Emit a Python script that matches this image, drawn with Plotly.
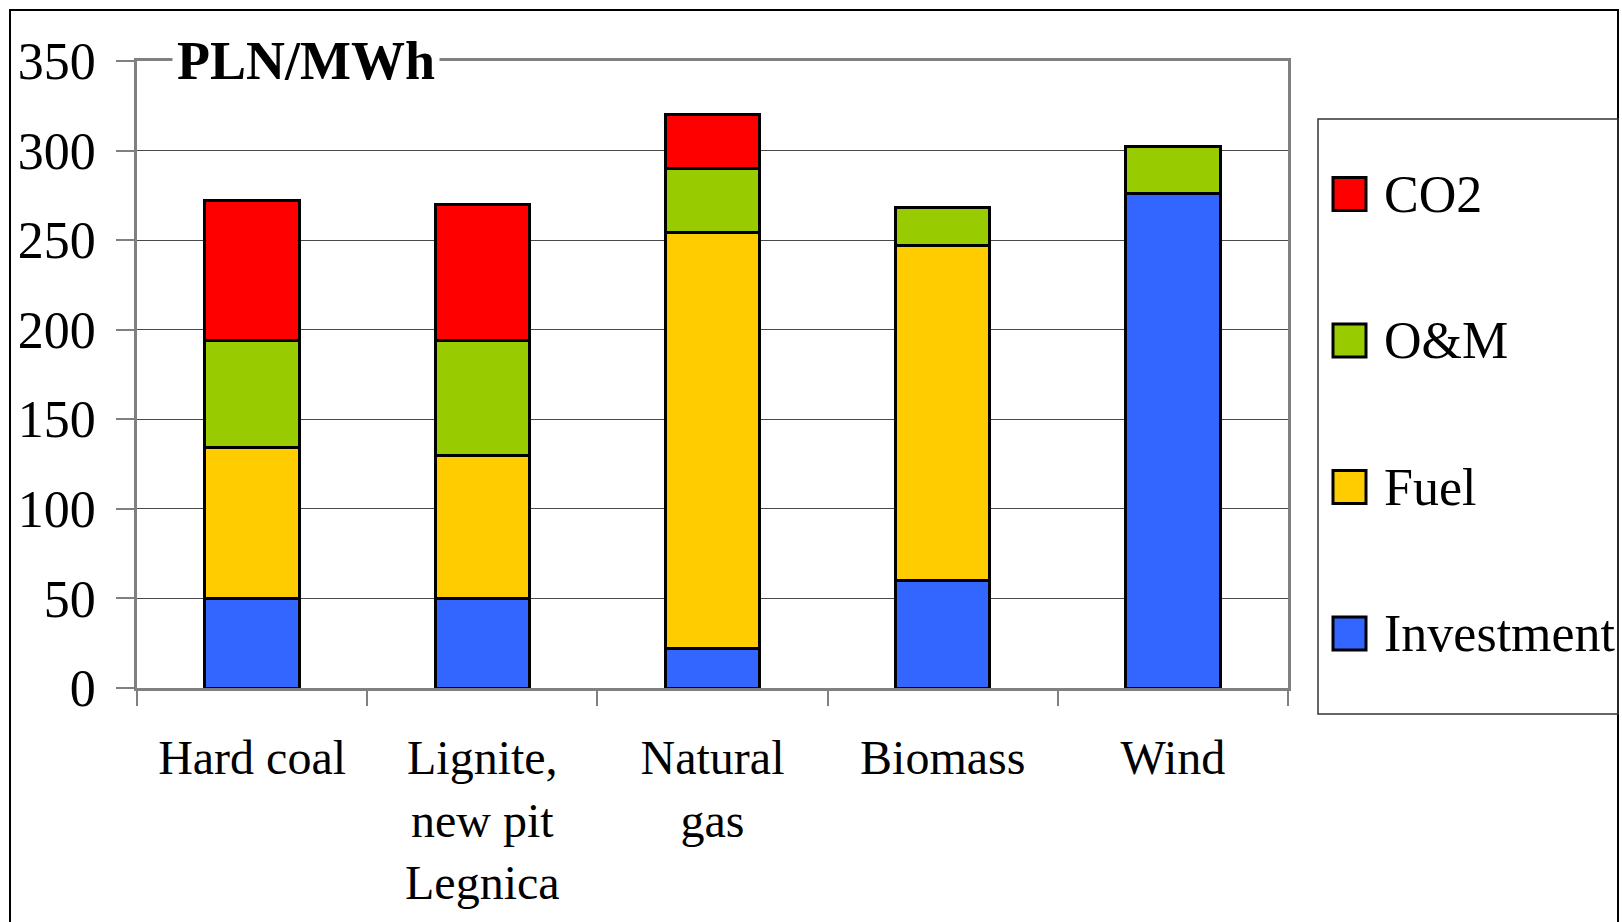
import plotly.graph_objects as go

# ---- data ----
categories = ["Hard coal", "Lignite,<br>new pit<br>Legnica", "Natural<br>gas", "Biomass", "Wind"]
investment = [50, 50, 22, 60, 276]
fuel = [84, 80, 232, 187, 0]
om = [60, 64, 36, 21, 26]
co2 = [78, 76, 30, 0, 0]

series_names = ["Investment", "Fuel", "O&M", "CO2"]
series_values = [investment, fuel, om, co2]
series_colors = ["#3366FF", "#FFCC00", "#99CC00", "#FF0000"]
y_ticks = [0, 50, 100, 150, 200, 250, 300, 350]
unit_label = "PLN/MWh"

# ---- geometry (pixels) ----
W, H = 1622, 922
L, R, T, B = 137, 334, 61, 234
PW, PH = W - L - R, H - T - B
FONT = "Liberation Serif, Times New Roman, serif"


def px(x):
    return (x - L) / PW


def py(y):
    return (H - B - y) / PH


fig = go.Figure()
for name, vals, col in zip(series_names, series_values, series_colors):
    fig.add_trace(go.Bar(
        x=categories,
        y=[v if v else None for v in vals],
        name=name,
        marker=dict(color=col, line=dict(color="black", width=3)),
        showlegend=False,
    ))

fig.update_layout(
    width=W, height=H,
    margin=dict(l=L, r=R, t=T, b=B, autoexpand=False),
    barmode="stack",
    bargap=0.59,
    plot_bgcolor="white",
    paper_bgcolor="white",
    font=dict(family=FONT, color="black"),
    showlegend=False,
)

fig.update_yaxes(
    range=[0, 350],
    tickvals=y_ticks,
    ticktext=[str(v) for v in y_ticks],
    tickfont=dict(size=52, family=FONT, color="black"),
    showgrid=True, gridcolor="#4a4a4a", gridwidth=1,
    showline=True, linecolor="#808080", linewidth=2.5, mirror=True,
    ticks="outside", ticklen=18, tickcolor="#808080", tickwidth=1.5,
    ticklabelstandoff=10,
    zeroline=False,
)
fig.update_xaxes(
    tickfont=dict(size=48, family=FONT, color="black"),
    showline=True, linecolor="#808080", linewidth=2.5, mirror=True,
    ticks="outside", ticklen=15, tickcolor="#808080", tickwidth=1.5,
    tickson="boundaries",
    ticklabelstandoff=26,
    showgrid=False,
)

shapes = []
annotations = []

# outer chart border (extends past right/bottom edge)
shapes.append(dict(type="rect", xref="paper", yref="paper",
                   x0=px(10), x1=px(1618), y0=py(940), y1=py(10),
                   line=dict(color="black", width=2), layer="below"))

# legend box
shapes.append(dict(type="rect", xref="paper", yref="paper",
                   x0=px(1318), x1=px(1618), y0=py(714), y1=py(119),
                   line=dict(color="#333333", width=1.5)))

legend_rows = [194, 340.5, 487, 633.5]
for (name, col), yc in zip(list(zip(series_names, series_colors))[::-1], legend_rows):
    shapes.append(dict(type="rect", xref="paper", yref="paper",
                       x0=px(1333), x1=px(1366), y0=py(yc + 16.5), y1=py(yc - 16.5),
                       fillcolor=col, line=dict(color="black", width=3)))
    annotations.append(dict(text=name, xref="paper", yref="paper",
                            x=px(1382), y=py(yc), xanchor="left", yanchor="middle",
                            showarrow=False, font=dict(size=52, family=FONT, color="black")))

# unit label on top border
annotations.append(dict(text="<b>" + unit_label + "</b>", xref="paper", yref="paper",
                        x=px(306), y=py(61), xanchor="center", yanchor="middle",
                        showarrow=False, bgcolor="white", borderpad=4,
                        font=dict(size=54, family=FONT, color="black")))

fig.update_layout(shapes=shapes, annotations=annotations)
fig.write_html("out.html")
